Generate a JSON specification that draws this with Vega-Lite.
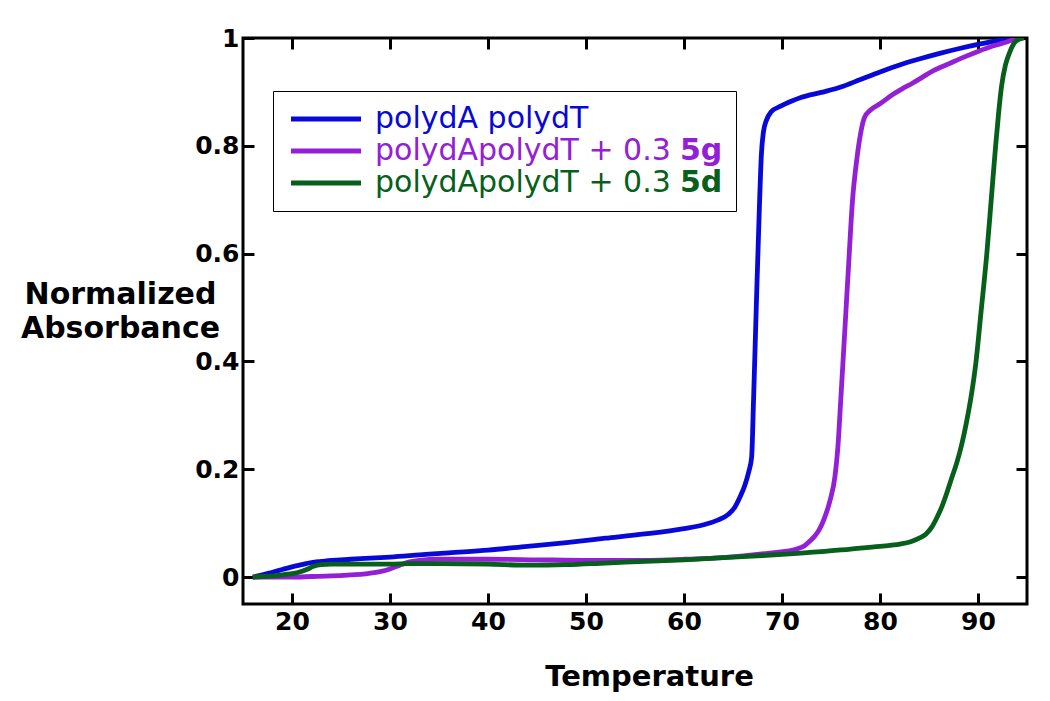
{
  "$schema": "https://vega.github.io/schema/vega-lite/v6.json",
  "width": 784,
  "height": 566,
  "autosize": {"type": "none"},
  "padding": {"left": 243, "top": 38, "right": 23, "bottom": 97},
  "background": "white",
  "config": {
    "view": {"stroke": "black", "strokeWidth": 3},
    "font": "DejaVu Sans",
    "axis": {
      "domain": false,
      "grid": false,
      "tickColor": "black",
      "tickWidth": 3,
      "tickSize": -11,
      "labelFont": "DejaVu Sans",
      "labelFontWeight": "bold",
      "labelFontSize": 25,
      "labelColor": "black",
      "titleFont": "DejaVu Sans",
      "titleFontWeight": "bold",
      "titleColor": "black"
    }
  },
  "data": {"values": [
    {"s":"polydA polydT","T":16,"A":0},
    {"s":"polydA polydT","T":17,"A":0.004},
    {"s":"polydA polydT","T":18,"A":0.009},
    {"s":"polydA polydT","T":19,"A":0.014},
    {"s":"polydA polydT","T":20,"A":0.019},
    {"s":"polydA polydT","T":21,"A":0.023},
    {"s":"polydA polydT","T":22,"A":0.027},
    {"s":"polydA polydT","T":23,"A":0.029},
    {"s":"polydA polydT","T":24,"A":0.031},
    {"s":"polydA polydT","T":26,"A":0.033},
    {"s":"polydA polydT","T":28,"A":0.035},
    {"s":"polydA polydT","T":30,"A":0.037},
    {"s":"polydA polydT","T":33,"A":0.041},
    {"s":"polydA polydT","T":36,"A":0.045},
    {"s":"polydA polydT","T":40,"A":0.05},
    {"s":"polydA polydT","T":44,"A":0.057},
    {"s":"polydA polydT","T":48,"A":0.064},
    {"s":"polydA polydT","T":52,"A":0.072},
    {"s":"polydA polydT","T":56,"A":0.08},
    {"s":"polydA polydT","T":60,"A":0.09},
    {"s":"polydA polydT","T":62,"A":0.097},
    {"s":"polydA polydT","T":63.5,"A":0.106},
    {"s":"polydA polydT","T":64.5,"A":0.116},
    {"s":"polydA polydT","T":65.2,"A":0.13},
    {"s":"polydA polydT","T":65.7,"A":0.148},
    {"s":"polydA polydT","T":66.2,"A":0.17},
    {"s":"polydA polydT","T":66.6,"A":0.195},
    {"s":"polydA polydT","T":66.9,"A":0.222},
    {"s":"polydA polydT","T":67.1,"A":0.33},
    {"s":"polydA polydT","T":67.4,"A":0.516},
    {"s":"polydA polydT","T":67.7,"A":0.69},
    {"s":"polydA polydT","T":67.9,"A":0.785},
    {"s":"polydA polydT","T":68.1,"A":0.825},
    {"s":"polydA polydT","T":68.4,"A":0.847},
    {"s":"polydA polydT","T":68.9,"A":0.863},
    {"s":"polydA polydT","T":69.8,"A":0.873},
    {"s":"polydA polydT","T":71,"A":0.883},
    {"s":"polydA polydT","T":72,"A":0.89},
    {"s":"polydA polydT","T":74,"A":0.899},
    {"s":"polydA polydT","T":76,"A":0.909},
    {"s":"polydA polydT","T":78,"A":0.923},
    {"s":"polydA polydT","T":80,"A":0.937},
    {"s":"polydA polydT","T":82,"A":0.95},
    {"s":"polydA polydT","T":84,"A":0.961},
    {"s":"polydA polydT","T":86,"A":0.971},
    {"s":"polydA polydT","T":88,"A":0.98},
    {"s":"polydA polydT","T":90,"A":0.988},
    {"s":"polydA polydT","T":92,"A":0.995},
    {"s":"polydA polydT","T":94.5,"A":1.0},
    {"s":"polydApolydT + 0.3 5g","T":16,"A":0},
    {"s":"polydApolydT + 0.3 5g","T":18,"A":0},
    {"s":"polydApolydT + 0.3 5g","T":20,"A":0},
    {"s":"polydApolydT + 0.3 5g","T":22,"A":0.001},
    {"s":"polydApolydT + 0.3 5g","T":24,"A":0.002},
    {"s":"polydApolydT + 0.3 5g","T":26,"A":0.004},
    {"s":"polydApolydT + 0.3 5g","T":27.5,"A":0.006},
    {"s":"polydApolydT + 0.3 5g","T":29,"A":0.01},
    {"s":"polydApolydT + 0.3 5g","T":30,"A":0.015},
    {"s":"polydApolydT + 0.3 5g","T":31,"A":0.022},
    {"s":"polydApolydT + 0.3 5g","T":32,"A":0.028},
    {"s":"polydApolydT + 0.3 5g","T":33,"A":0.031},
    {"s":"polydApolydT + 0.3 5g","T":35,"A":0.033},
    {"s":"polydApolydT + 0.3 5g","T":40,"A":0.033},
    {"s":"polydApolydT + 0.3 5g","T":45,"A":0.032},
    {"s":"polydApolydT + 0.3 5g","T":50,"A":0.031},
    {"s":"polydApolydT + 0.3 5g","T":55,"A":0.031},
    {"s":"polydApolydT + 0.3 5g","T":60,"A":0.033},
    {"s":"polydApolydT + 0.3 5g","T":64,"A":0.036},
    {"s":"polydApolydT + 0.3 5g","T":67,"A":0.041},
    {"s":"polydApolydT + 0.3 5g","T":69,"A":0.045},
    {"s":"polydApolydT + 0.3 5g","T":70.5,"A":0.048},
    {"s":"polydApolydT + 0.3 5g","T":71.5,"A":0.052},
    {"s":"polydApolydT + 0.3 5g","T":72.3,"A":0.058},
    {"s":"polydApolydT + 0.3 5g","T":72.8,"A":0.066},
    {"s":"polydApolydT + 0.3 5g","T":73.3,"A":0.075},
    {"s":"polydApolydT + 0.3 5g","T":73.8,"A":0.088},
    {"s":"polydApolydT + 0.3 5g","T":74.3,"A":0.108},
    {"s":"polydApolydT + 0.3 5g","T":74.9,"A":0.142},
    {"s":"polydApolydT + 0.3 5g","T":75.4,"A":0.186},
    {"s":"polydApolydT + 0.3 5g","T":75.7,"A":0.24},
    {"s":"polydApolydT + 0.3 5g","T":76.0,"A":0.33},
    {"s":"polydApolydT + 0.3 5g","T":76.4,"A":0.454},
    {"s":"polydApolydT + 0.3 5g","T":76.8,"A":0.58},
    {"s":"polydApolydT + 0.3 5g","T":77.2,"A":0.7},
    {"s":"polydApolydT + 0.3 5g","T":77.6,"A":0.77},
    {"s":"polydApolydT + 0.3 5g","T":77.9,"A":0.81},
    {"s":"polydApolydT + 0.3 5g","T":78.4,"A":0.852},
    {"s":"polydApolydT + 0.3 5g","T":79.0,"A":0.866},
    {"s":"polydApolydT + 0.3 5g","T":80.0,"A":0.878},
    {"s":"polydApolydT + 0.3 5g","T":81.3,"A":0.895},
    {"s":"polydApolydT + 0.3 5g","T":82.3,"A":0.906},
    {"s":"polydApolydT + 0.3 5g","T":83.3,"A":0.916},
    {"s":"polydApolydT + 0.3 5g","T":84.3,"A":0.927},
    {"s":"polydApolydT + 0.3 5g","T":85.5,"A":0.94},
    {"s":"polydApolydT + 0.3 5g","T":87,"A":0.952},
    {"s":"polydApolydT + 0.3 5g","T":88.5,"A":0.964},
    {"s":"polydApolydT + 0.3 5g","T":90,"A":0.975},
    {"s":"polydApolydT + 0.3 5g","T":91.5,"A":0.985},
    {"s":"polydApolydT + 0.3 5g","T":93,"A":0.993},
    {"s":"polydApolydT + 0.3 5g","T":94,"A":1.0},
    {"s":"polydApolydT + 0.3 5d","T":16,"A":0},
    {"s":"polydApolydT + 0.3 5d","T":17,"A":0.001},
    {"s":"polydApolydT + 0.3 5d","T":18,"A":0.002},
    {"s":"polydApolydT + 0.3 5d","T":19,"A":0.004},
    {"s":"polydApolydT + 0.3 5d","T":20.5,"A":0.008},
    {"s":"polydApolydT + 0.3 5d","T":21.5,"A":0.014},
    {"s":"polydApolydT + 0.3 5d","T":22.2,"A":0.02},
    {"s":"polydApolydT + 0.3 5d","T":23,"A":0.023},
    {"s":"polydApolydT + 0.3 5d","T":24,"A":0.024},
    {"s":"polydApolydT + 0.3 5d","T":27,"A":0.024},
    {"s":"polydApolydT + 0.3 5d","T":30,"A":0.024},
    {"s":"polydApolydT + 0.3 5d","T":32,"A":0.025},
    {"s":"polydApolydT + 0.3 5d","T":35,"A":0.025},
    {"s":"polydApolydT + 0.3 5d","T":40,"A":0.024},
    {"s":"polydApolydT + 0.3 5d","T":44,"A":0.022},
    {"s":"polydApolydT + 0.3 5d","T":48,"A":0.023},
    {"s":"polydApolydT + 0.3 5d","T":52,"A":0.026},
    {"s":"polydApolydT + 0.3 5d","T":56,"A":0.029},
    {"s":"polydApolydT + 0.3 5d","T":60,"A":0.032},
    {"s":"polydApolydT + 0.3 5d","T":64,"A":0.036},
    {"s":"polydApolydT + 0.3 5d","T":67,"A":0.039},
    {"s":"polydApolydT + 0.3 5d","T":70,"A":0.042},
    {"s":"polydApolydT + 0.3 5d","T":74,"A":0.047},
    {"s":"polydApolydT + 0.3 5d","T":77,"A":0.052},
    {"s":"polydApolydT + 0.3 5d","T":80,"A":0.057},
    {"s":"polydApolydT + 0.3 5d","T":82,"A":0.061},
    {"s":"polydApolydT + 0.3 5d","T":83.2,"A":0.066},
    {"s":"polydApolydT + 0.3 5d","T":84,"A":0.072},
    {"s":"polydApolydT + 0.3 5d","T":84.7,"A":0.08},
    {"s":"polydApolydT + 0.3 5d","T":85.3,"A":0.093},
    {"s":"polydApolydT + 0.3 5d","T":85.8,"A":0.11},
    {"s":"polydApolydT + 0.3 5d","T":86.3,"A":0.13},
    {"s":"polydApolydT + 0.3 5d","T":86.8,"A":0.155},
    {"s":"polydApolydT + 0.3 5d","T":87.3,"A":0.183},
    {"s":"polydApolydT + 0.3 5d","T":87.8,"A":0.21},
    {"s":"polydApolydT + 0.3 5d","T":88.3,"A":0.243},
    {"s":"polydApolydT + 0.3 5d","T":88.8,"A":0.285},
    {"s":"polydApolydT + 0.3 5d","T":89.3,"A":0.335},
    {"s":"polydApolydT + 0.3 5d","T":89.8,"A":0.4},
    {"s":"polydApolydT + 0.3 5d","T":90.3,"A":0.49},
    {"s":"polydApolydT + 0.3 5d","T":90.9,"A":0.6},
    {"s":"polydApolydT + 0.3 5d","T":91.35,"A":0.7},
    {"s":"polydApolydT + 0.3 5d","T":91.8,"A":0.8},
    {"s":"polydApolydT + 0.3 5d","T":92.1,"A":0.86},
    {"s":"polydApolydT + 0.3 5d","T":92.4,"A":0.91},
    {"s":"polydApolydT + 0.3 5d","T":92.8,"A":0.95},
    {"s":"polydApolydT + 0.3 5d","T":93.2,"A":0.972},
    {"s":"polydApolydT + 0.3 5d","T":93.6,"A":0.988},
    {"s":"polydApolydT + 0.3 5d","T":94,"A":0.996},
    {"s":"polydApolydT + 0.3 5d","T":94.7,"A":1.0}
  ]},
  "resolve": {"axis": {"x": "independent", "y": "independent"}},
  "layer": [
    {
      "mark": {"type": "line", "strokeWidth": 4.8, "interpolate": "monotone", "clip": true},
      "encoding": {
        "x": {"field": "T", "type": "quantitative",
          "scale": {"domain": [15, 95], "nice": false, "zero": false},
          "axis": {"orient": "bottom", "values": [20,30,40,50,60,70,80,90], "labelPadding": 16,
            "title": "Temperature", "titleFontSize": 29, "titleX": 406, "titleY": 81,
            "titleBaseline": "alphabetic", "titleAlign": "center"}},
        "y": {"field": "A", "type": "quantitative",
          "scale": {"domain": [-0.05, 1], "nice": false, "zero": false},
          "axis": {"orient": "left", "values": [0,0.2,0.4,0.6,0.8,1], "format": ".1~f", "labelPadding": 15,
            "title": ["Normalized", "Absorbance"], "titleFontSize": 30, "titleAngle": 0,
            "titleAlign": "center", "titleBaseline": "alphabetic", "titleX": -123, "titleY": 265,
            "titleLineHeight": 34}},
        "color": {"field": "s", "type": "nominal",
          "scale": {"domain": ["polydA polydT", "polydApolydT + 0.3 5g", "polydApolydT + 0.3 5d"],
                    "range": ["#0808d8", "#9320d6", "#075f1c"]},
          "legend": {"title": null, "orient": "none", "legendX": 30, "legendY": 53,
            "symbolType": "M-1,0H6", "symbolSize": 400, "symbolStrokeWidth": 4.8,
            "labelFont": "DejaVu Sans", "labelFontSize": 30, "labelOffset": 59, "labelLimit": 600,
            "labelExpr": "indexof(datum.label, '5') > 0 ? slice(datum.label, 0, -2) : datum.label",
            "rowPadding": 2, "padding": 13, "fillColor": "white",
            "encode": {"labels": {"update": {"fill": {"scale": "color", "field": "value"}}}}}},
        "opacity": {"field": "s", "type": "nominal",
          "scale": {"domain": ["polydA polydT", "polydApolydT + 0.3 5g", "polydApolydT + 0.3 5d", "zz"],
                    "range": [1, 1, 1, 1]},
          "legend": {"title": null, "orient": "none", "legendX": 30, "legendY": 53,
            "values": ["polydA polydT", "polydApolydT + 0.3 5g", "polydApolydT + 0.3 5d"],
            "symbolType": "M-1,0H6", "symbolSize": 400, "symbolStrokeWidth": 0,
            "labelFont": "DejaVu Sans", "labelFontSize": 30, "labelFontWeight": "bold", "labelOffset": 364, "labelLimit": 600,
            "labelExpr": "indexof(datum.label, '5') > 0 ? slice(datum.label, -2) : ''",
            "rowPadding": 2, "padding": 13, "strokeColor": "black",
            "encode": {
              "symbols": {"update": {"opacity": {"value": 0}, "strokeOpacity": {"value": 0}, "fillOpacity": {"value": 0}}},
              "labels": {"update": {"fill": {"scale": "color", "field": "value"}}}}}}
      }
    },
    {
      "mark": {"type": "line", "strokeOpacity": 0},
      "encoding": {
        "x": {"field": "T", "type": "quantitative",
          "scale": {"domain": [15, 95], "nice": false, "zero": false},
          "axis": {"orient": "top", "values": [20,30,40,50,60,70,80,90], "labels": false, "title": null}},
        "y": {"field": "A", "type": "quantitative",
          "scale": {"domain": [-0.05, 1], "nice": false, "zero": false},
          "axis": {"orient": "right", "values": [0,0.2,0.4,0.6,0.8,1], "labels": false, "title": null}},
        "detail": {"field": "s", "type": "nominal"}
      }
    }
  ]
}
